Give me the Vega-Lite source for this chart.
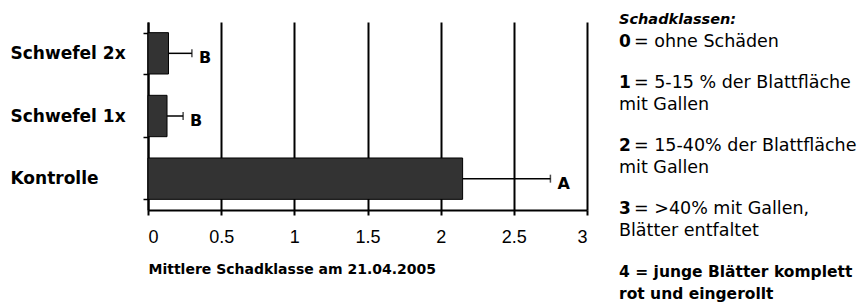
{
  "$schema": "https://vega.github.io/schema/vega-lite/v6.json",
  "padding": {"left": 10, "top": 12, "right": 0, "bottom": 0},
  "background": "white",
  "spacing": 31,
  "config": {"view": {"stroke": null}, "font": "DejaVu Sans"},
  "hconcat": [
    {
      "width": 439,
      "height": 188,
      "data": {"values": [
        {"treatment": "Schwefel 2x", "mean": 0.14, "upper": 0.30, "group": "B"},
        {"treatment": "Schwefel 1x", "mean": 0.13, "upper": 0.24, "group": "B"},
        {"treatment": "Kontrolle", "mean": 2.15, "upper": 2.75, "group": "A"}
      ]},
      "encoding": {
        "y": {
          "field": "treatment", "type": "nominal",
          "sort": ["Schwefel 2x", "Schwefel 1x", "Kontrolle"],
          "scale": {"type": "band", "paddingInner": 0.34, "paddingOuter": 0.17},
          "title": null,
          "axis": {
            "domainColor": "#000", "domainWidth": 2,
            "tickColor": "#000", "tickWidth": 1.5, "tickSize": 5, "tickBand": "extent",
            "labelAlign": "left", "labelPadding": 133, "labelFont": "DejaVu Sans",
            "labelFontWeight": "bold", "labelFontSize": 17, "labelColor": "#000",
            "grid": false
          }
        }
      },
      "layer": [
        {
          "mark": {"type": "bar", "fill": "#333333", "stroke": "#000", "strokeWidth": 1},
          "encoding": {
            "x": {
              "field": "mean", "type": "quantitative",
              "scale": {"domain": [0, 3], "nice": false},
              "title": "Mittlere Schadklasse am 21.04.2005",
              "axis": {
                "values": [0, 0.5, 1, 1.5, 2, 2.5, 3], "format": "~g",
                "grid": true, "gridColor": "#000", "gridWidth": 2, "gridOpacity": 1,
                "domainColor": "#000", "domainWidth": 2,
                "tickColor": "#000", "tickWidth": 2, "tickSize": 5,
                "labelFont": "Liberation Sans", "labelFontSize": 18, "labelColor": "#000",
                "labelPadding": 13,
                "titleFont": "DejaVu Sans", "titleFontWeight": "bold", "titleFontSize": 14,
                "titleColor": "#000", "titleAnchor": "start", "titlePadding": 16
              }
            }
          }
        },
        {
          "mark": {"type": "rule", "color": "#000", "strokeWidth": 1.5},
          "encoding": {
            "x": {"field": "mean", "type": "quantitative"},
            "x2": {"field": "upper"}
          }
        },
        {
          "mark": {"type": "tick", "orient": "vertical", "color": "#000", "thickness": 1.5, "size": 8},
          "encoding": {"x": {"field": "upper", "type": "quantitative"}}
        },
        {
          "mark": {"type": "text", "align": "left", "dx": 7, "dy": 5, "fontWeight": "bold", "fontSize": 16, "font": "DejaVu Sans", "color": "#000"},
          "encoding": {
            "x": {"field": "upper", "type": "quantitative"},
            "text": {"field": "group"}
          }
        }
      ]
    },
    {
      "width": 244,
      "height": 315,
      "data": {"values": [
        {"block": 0, "line": 1, "kind": "title", "num": "", "text": "Schadklassen:"},
        {"block": 0, "line": 2, "kind": "def", "num": "0", "text": "= ohne Schäden"},
        {"block": 1, "line": 1, "kind": "def", "num": "1", "text": "=  5-15 % der Blattfläche"},
        {"block": 1, "line": 2, "kind": "cont", "num": "", "text": "mit Gallen"},
        {"block": 2, "line": 1, "kind": "def", "num": "2", "text": "= 15-40% der Blattfläche"},
        {"block": 2, "line": 2, "kind": "cont", "num": "", "text": "mit Gallen"},
        {"block": 3, "line": 1, "kind": "def", "num": "3", "text": "= >40% mit Gallen,"},
        {"block": 3, "line": 2, "kind": "cont", "num": "", "text": "Blätter entfaltet"},
        {"block": 4, "line": 1, "kind": "strong", "num": "", "text": "4 = junge Blätter komplett"},
        {"block": 4, "line": 2, "kind": "strong", "num": "", "text": "rot und eingerollt"}
      ]},
      "encoding": {
        "x": {"datum": 0, "type": "quantitative", "scale": {"domain": [0, 1]}, "axis": null},
        "y": {"field": "block", "type": "ordinal", "bandPosition": 0, "scale": {"type": "band", "paddingInner": 0, "paddingOuter": 0}, "axis": null}
      },
      "layer": [
        {
          "transform": [{"filter": "datum.kind === 'title'"}],
          "mark": {"type": "text", "align": "left", "baseline": "middle", "dy": -2, "fontSize": 14.5, "fontWeight": "bold", "fontStyle": "italic", "color": "#000"},
          "encoding": {"text": {"field": "text"}}
        },
        {
          "transform": [{"filter": "datum.kind === 'def' && datum.line === 1"}],
          "mark": {"type": "text", "align": "left", "baseline": "middle", "dy": -2, "fontSize": 17, "fontWeight": "bold", "color": "#000"},
          "encoding": {"text": {"field": "num"}}
        },
        {
          "transform": [{"filter": "datum.kind === 'def' && datum.line === 1"}],
          "mark": {"type": "text", "align": "left", "baseline": "middle", "dx": 15, "dy": -2, "fontSize": 17.5, "color": "#000"},
          "encoding": {"text": {"field": "text"}}
        },
        {
          "transform": [{"filter": "datum.kind === 'def' && datum.line === 2"}],
          "mark": {"type": "text", "align": "left", "baseline": "middle", "dy": 19.5, "fontSize": 17, "fontWeight": "bold", "color": "#000"},
          "encoding": {"text": {"field": "num"}}
        },
        {
          "transform": [{"filter": "datum.kind === 'def' && datum.line === 2"}],
          "mark": {"type": "text", "align": "left", "baseline": "middle", "dx": 15, "dy": 19.5, "fontSize": 17.5, "color": "#000"},
          "encoding": {"text": {"field": "text"}}
        },
        {
          "transform": [{"filter": "datum.kind === 'cont'"}],
          "mark": {"type": "text", "align": "left", "baseline": "middle", "dy": 19.5, "fontSize": 17.5, "color": "#000"},
          "encoding": {"text": {"field": "text"}}
        },
        {
          "transform": [{"filter": "datum.kind === 'strong' && datum.line === 1"}],
          "mark": {"type": "text", "align": "left", "baseline": "middle", "dy": -2, "fontSize": 15.5, "fontWeight": "bold", "color": "#000"},
          "encoding": {"text": {"field": "text"}}
        },
        {
          "transform": [{"filter": "datum.kind === 'strong' && datum.line === 2"}],
          "mark": {"type": "text", "align": "left", "baseline": "middle", "dy": 19.5, "fontSize": 15.5, "fontWeight": "bold", "color": "#000"},
          "encoding": {"text": {"field": "text"}}
        }
      ]
    }
  ]
}
